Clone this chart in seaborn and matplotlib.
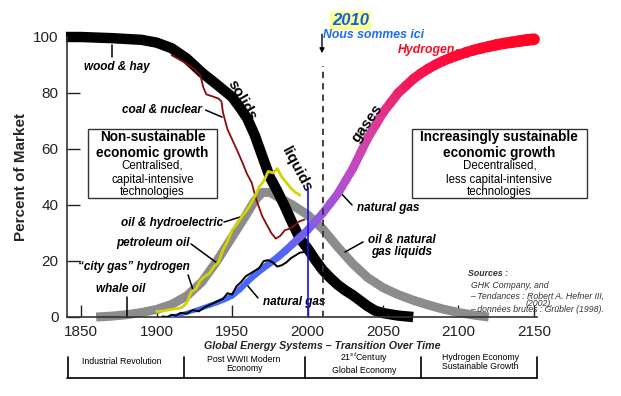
import numpy as np
import matplotlib
matplotlib.use("Agg")
import matplotlib.pyplot as plt
import seaborn as sns
from matplotlib.collections import LineCollection
from matplotlib.colors import LinearSegmentedColormap
from matplotlib.lines import Line2D
from matplotlib.patches import Rectangle

# market share curves (percent)
solids_years = [1840, 1850, 1860, 1870, 1880, 1890, 1900, 1910, 1920, 1930, 1940,
                1950, 1955, 1960, 1965, 1970, 1975, 1980, 1985, 1990, 1995, 2000,
                2005, 2010, 2015, 2020, 2025, 2030, 2035, 2040, 2045, 2050, 2060, 2070]
solids_vals = [100, 100, 99.8, 99.6, 99.3, 99.0, 98, 96, 92.3, 87.3, 83,
               78.6, 75, 71, 65, 57.5, 50, 45, 39.5, 33.5, 28, 24.5,
               20.5, 16.8, 14, 11.5, 9.5, 7.8, 5.8, 3.8, 2.2, 1.4, 0.5, 0]

liquids_years = [1860, 1870, 1880, 1890, 1900, 1910, 1920, 1930, 1940, 1950, 1960,
                 1965, 1970, 1975, 1980, 1990, 2000, 2010, 2020, 2030, 2040, 2050,
                 2060, 2070, 2080, 2090, 2100, 2110, 2120]
liquids_vals = [0, 0.3, 0.8, 1.6, 2.7, 4.5, 7.5, 12.5, 20, 28.5, 37,
                41.5, 44.5, 44.5, 43, 40, 36.5, 31.5, 25, 19, 14, 10.5,
                8, 6, 4.3, 2.8, 1.6, 0.7, 0]

gases_years = list(range(1910, 2151, 5))
gases_vals = [0.2, 0.8, 1.5, 2.3, 3.2, 4.1, 5.1, 6.2, 7.5, 9.8, 12.5, 15, 17.2,
              19.2, 21.2, 23.5, 26, 28.5, 31, 34, 37, 40.5, 44, 48.5, 53, 58.5,
              64, 68.5, 73, 76.5, 80, 82.5, 85, 87, 88.7, 90.2, 91.5, 92.6, 93.6,
              94.5, 95.3, 96, 96.6, 97.2, 97.7, 98.1, 98.5, 98.9, 99.2]

coal_years = [1910, 1915, 1920, 1925, 1929, 1931, 1933, 1937, 1941, 1943, 1944,
              1947, 1950, 1953, 1957, 1960, 1963, 1966, 1970, 1973, 1976, 1979,
              1982, 1985, 1988, 1991, 1994, 1998]
coal_vals = [93.5, 92, 90.5, 88.5, 86.4, 82, 79.5, 78.8, 78, 77, 73,
             67, 63.5, 60, 55, 51, 48, 42, 36, 33, 30, 28,
             29, 31, 31.5, 32.5, 34, 34.8]

oilhydro_years = [1900, 1905, 1910, 1914, 1917, 1920, 1923, 1926, 1929, 1932, 1935,
                  1938, 1941, 1944, 1947, 1950, 1953, 1956, 1959, 1962, 1965, 1968,
                  1971, 1974, 1977, 1980, 1983, 1986, 1989, 1992, 1995]
oilhydro_vals = [2, 2.2, 2.8, 3, 3.5, 5, 9, 10, 13, 14.5, 15.5,
                 18, 19.5, 24, 27, 31, 33, 35.5, 37.5, 40, 43, 46.5,
                 48.5, 52, 51.5, 53, 50, 48, 46, 44.5, 43.5]

natgas_years = [1904, 1907, 1910, 1913, 1916, 1920, 1924, 1928, 1932, 1936, 1940,
                1944, 1947, 1950, 1953, 1956, 1959, 1962, 1965, 1968, 1971, 1974,
                1977, 1980, 1983, 1986, 1989, 1992, 1995, 1998]
natgas_vals = [0.2, 0, 0.8, 0.5, 1.5, 1.2, 2.5, 2.0, 3.5, 4.5, 5.5,
               6.5, 8.5, 8, 11, 12.5, 14.5, 15.5, 16.5, 17.5, 20, 20.3,
               19.5, 18, 18.5, 19.5, 21, 22, 23, 23.2]

x_ticks = [1850, 1900, 1950, 2000, 2050, 2100, 2150]
y_ticks = [0, 20, 40, 60, 80, 100]

eras = ["Industrial Revolution", "Post WWII Modern\nEconomy",
        "21$^{st}$Century\nGlobal Economy", "Hydrogen Economy\nSustainable Growth"]

sns.set_theme(style="ticks")
plt.rcParams["font.family"] = ["Liberation Sans", "DejaVu Sans"]

fig = plt.figure(figsize=(6.21, 3.96), dpi=100)
ax = fig.add_axes([67 / 621, 79 / 396, 470 / 621, 280 / 396])

sns.lineplot(x=liquids_years, y=liquids_vals, ax=ax, color="#8c8c8c",
             linewidth=6.5, zorder=1, clip_on=False, solid_capstyle="butt")
sns.lineplot(x=solids_years, y=solids_vals, ax=ax, color="black",
             linewidth=7.5, zorder=2, clip_on=False, solid_capstyle="butt")

# gases: blue -> purple -> red, getting wider
gx = np.array(gases_years, dtype=float)
gy = np.array(gases_vals, dtype=float)
pts = np.column_stack([gx, gy]).reshape(-1, 1, 2)
segs = np.concatenate([pts[:-1], pts[1:]], axis=1)
mid = (gx[:-1] + gx[1:]) / 2
cmap = LinearSegmentedColormap.from_list("gases", [
    (0.0, "#3a6cff"), (0.31, "#5066f4"), (0.40, "#8a5be6"), (0.48, "#b44ed0"),
    (0.56, "#d8409e"), (0.66, "#f3185c"), (0.79, "#ff0a35"), (1.0, "#ff0522")])
lc = LineCollection(segs, cmap=cmap, norm=plt.Normalize(1910, 2150),
                    linewidths=np.interp(mid, [1910, 1990, 2150], [2.5, 5.5, 8.5]),
                    capstyle="round", zorder=3, clip_on=False)
lc.set_array(mid)
ax.add_collection(lc)

sns.lineplot(x=coal_years, y=coal_vals, ax=ax, color="#8b0a0a",
             linewidth=1.3, zorder=4)
sns.lineplot(x=oilhydro_years, y=oilhydro_vals, ax=ax, color="#d4d400",
             linewidth=2, zorder=5)
sns.lineplot(x=natgas_years, y=natgas_vals, ax=ax, color="black",
             linewidth=1.4, zorder=6)

ax.vlines(2000, 0, 46, color="#1010ff", linewidth=1.2, zorder=7)
ax.vlines(2010, 0, 89.5, color="#333333", linewidth=1.3,
          linestyles=(0, (3.5, 2.8)), zorder=7)
ax.annotate("", xy=(2009.6, 93.2), xytext=(2009.6, 102),
            arrowprops=dict(arrowstyle="-|>", color="black", lw=1,
                            mutation_scale=7), annotation_clip=False)

ax.set_xlim(1840.7, 2152)
ax.set_ylim(0, 100)
ax.set_xticks(x_ticks)
ax.set_yticks(y_ticks)
ax.tick_params(direction="in", length=9, width=1, labelsize=11,
               color="#222222", labelcolor="#222222")
ax.tick_params(axis="y", pad=6)
ax.tick_params(axis="x", pad=6)
sns.despine(ax=ax)
for s in ["left", "bottom"]:
    ax.spines[s].set_linewidth(1.2)
    ax.spines[s].set_color("#333333")
ax.set_xlabel("")
ax.set_ylabel("Percent of Market", fontsize=11, fontweight="bold", labelpad=4)

lab = dict(fontsize=8.5, fontweight="bold", fontstyle="italic", color="black")
pk = dict(color="black", linewidth=1.1, clip_on=False)

ax.text(1873.8, 89.3, "wood & hay", ha="center", va="center", **lab)
ax.plot([1870.5, 1870.5], [97.1, 92.9], **pk)
ax.text(1877, 73.9, "coal & nuclear", ha="left", va="center", **lab)
ax.plot([1932.5, 1943.4], [73.9, 71.4], **pk)
ax.text(1944, 33.6, "oil & hydroelectric", ha="right", va="center", **lab)
ax.plot([1944.7, 1955.3], [33.9, 35.7], **pk)
ax.text(1922.2, 26.4, "petroleum oil", ha="right", va="center", **lab)
ax.plot([1922.8, 1940], [26.1, 19.3], **pk)
ax.text(1922.2, 17.9, "\u201ccity gas\u201d hydrogen", ha="right", va="center", **lab)
ax.plot([1920.9, 1924.2], [15, 9.6], **pk)
ax.text(1876.5, 10, "whale oil", ha="center", va="center", **lab)
ax.plot([1880.5, 1880.5], [7.1, 0], **pk)
ax.text(1970.5, 5.4, "natural gas", ha="left", va="center", **lab)
ax.plot([1960, 1967.2], [11.4, 6.8], **pk)
ax.text(2032.8, 38.9, "natural gas", ha="left", va="center", **lab)
ax.plot([2021.5, 2029.5], [44.6, 40], **pk)
ax.text(2062.6, 25.4, "oil & natural\ngas liquids", ha="center", va="center",
        linespacing=1.0, **lab)
ax.plot([2024.8, 2036.8], [23.2, 26.8], **pk)
ax.text(2097.7, 95.4, "Hydrogen", ha="right", va="center", fontsize=8.8,
        fontweight="bold", fontstyle="italic", color="#ff0a1e")
ax.plot([2099, 2106.3], [95.4, 92.9], **pk)

big = dict(fontsize=11, fontweight="bold", color="black", ha="center", va="center")
ax.text(1956.6, 77.5, "solids", rotation=-60, **big)
ax.text(1993, 52.5, "liquids", rotation=-62, **big)
ax.text(2039.4, 69.3, "gases", rotation=55, **big)

ax.text(2028.8, 106, "2010", fontsize=12, fontweight="bold", fontstyle="italic",
        color="#1060e0", ha="center", va="center",
        bbox=dict(boxstyle="square,pad=0.12", fc="#ffff99", ec="none"))
ax.text(2043.4, 100.7, "Nous sommes ici", fontsize=8.8, fontweight="bold",
        fontstyle="italic", color="#1e6ef0", ha="center", va="center")

# boxes
for (x0, x1), lines in [((1854.6, 1940), ["Non-sustainable", "economic growth",
                                           "Centralised,", "capital-intensive",
                                           "technologies"]),
                        ((2069.2, 2185), ["Increasingly sustainable",
                                          "economic growth", "Decentralised,",
                                          "less capital-intensive",
                                          "technologies"])]:
    ax.add_patch(Rectangle((x0, 42.5), x1 - x0, 24.6, fill=False,
                           ec="#333333", lw=1, clip_on=False, zorder=8))
    xc = (x0 + x1) / 2
    for txt, yv, bold in zip(lines, [64.3, 58.6, 54.0, 49.1, 44.6],
                             [True, True, False, False, False]):
        ax.text(xc, yv, txt, ha="center", va="center",
                fontsize=9.8 if bold else 8.3,
                fontweight="bold" if bold else "normal", color="black")

# x label and eras below the axis
fig.text(322 / 621, 1 - 346 / 396, "Global Energy Systems \u2013 Transition Over Time",
         ha="center", va="center", fontsize=7.7, fontweight="bold",
         fontstyle="italic", color="#222222")
fig.add_artist(Line2D([67 / 621, 537 / 621], [1 - 378 / 396] * 2,
                      color="black", lw=1.2))
for px in [68, 184, 305, 421, 537]:
    fig.add_artist(Line2D([px / 621] * 2, [1 - 357 / 396, 1 - 378 / 396],
                          color="black", lw=1.2))
for txt, px, py in zip(eras, [122, 244, 364, 480], [361, 364, 363, 362]):
    fig.text(px / 621, 1 - py / 396, txt, ha="center", va="center",
             fontsize=6.3, linespacing=1.1, color="black")

src = dict(fontsize=6.3, fontstyle="italic", color="#333333", va="center")
fig.text(468 / 621, 1 - 273 / 396, "Sources :", fontweight="bold", **src)
fig.text(471 / 621, 1 - 285 / 396, "GHK Company, and", **src)
fig.text(470 / 621, 1 - 296 / 396, "\u2013 Tendances : Robert A. Hefner III,", **src)
fig.text(526 / 621, 1 - 303 / 396, "(2002),", **src)
fig.text(470 / 621, 1 - 309 / 396, "\u2013 donn\u00e9es brutes : Gr\u00fcbler (1998).", **src)

fig.savefig("out.png", dpi=100)
